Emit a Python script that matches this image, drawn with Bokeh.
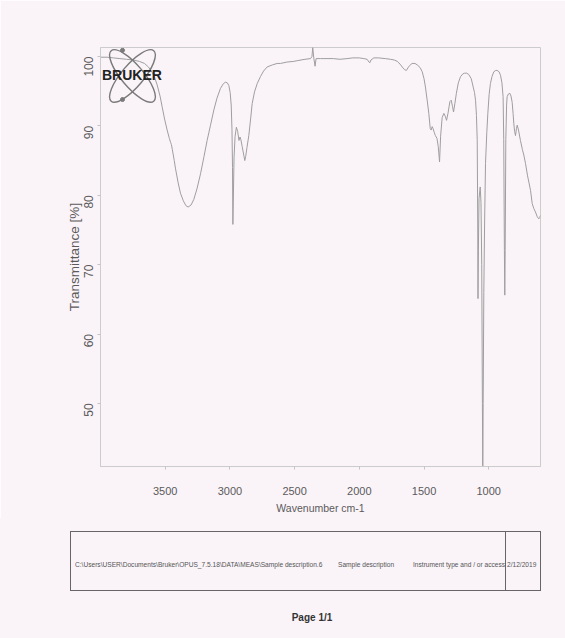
import math
from bokeh.plotting import figure
from bokeh.models import Range1d, FixedTicker, Label, Div
from bokeh.layouts import column
from bokeh.embed import file_html
from bokeh.resources import INLINE

# ---------------- data ----------------
wavenumber = [
    4000, 3950, 3900, 3850, 3800, 3750, 3700, 3660, 3630, 3600, 3580, 3562, 3540, 3523,
    3505, 3485, 3468, 3458, 3452, 3445, 3430, 3420, 3400, 3382, 3360, 3340, 3323, 3300,
    3279, 3255, 3227, 3200, 3176, 3150, 3124, 3100, 3073, 3050, 3034, 3020, 3008, 2998,
    2990, 2984, 2980, 2977, 2974, 2968, 2960, 2950, 2940, 2930, 2922, 2915, 2905, 2893,
    2885, 2878, 2868, 2854, 2840, 2828, 2810, 2789, 2764, 2740, 2712, 2670, 2635, 2609,
    2560, 2506, 2480, 2420, 2377, 2366, 2360, 2352, 2342, 2334, 2300, 2274, 2200, 2150,
    2094, 2050, 2000, 1965, 1940, 1925, 1919, 1910, 1888, 1850, 1800, 1759, 1730, 1707,
    1685, 1669, 1650, 1636, 1620, 1600, 1592, 1570, 1553, 1530, 1514, 1500, 1489, 1475,
    1463, 1452, 1445, 1437, 1430, 1420, 1412, 1400, 1390, 1380, 1372, 1360, 1347, 1336,
    1326, 1315, 1300, 1290, 1280, 1272, 1262, 1250, 1235, 1218, 1200, 1187, 1170, 1154,
    1135, 1120, 1110, 1102, 1095, 1089, 1085, 1083, 1080, 1075, 1066, 1060, 1054, 1049,
    1046, 1043, 1038, 1032, 1025, 1015, 1007, 997, 987, 975, 961, 945, 935, 920, 909,
    898, 889, 884, 879, 876, 873, 868, 862, 858, 848, 837, 828, 819, 812, 806, 800, 793,
    786, 780, 770, 755, 740, 729, 716, 700, 690, 677, 664, 652, 639, 625, 613, 606, 600,
]
transmittance = [
    99.9, 99.9, 99.8, 99.7, 99.6, 99.5, 99.3, 99.0, 98.5, 97.7, 96.9, 95.9, 94.3, 92.7,
    91.0, 89.4, 88.2, 87.6, 87.3, 86.6, 85.0, 83.8, 81.8, 80.3, 79.2, 78.5, 78.3, 78.6,
    79.4, 80.9, 83.1, 85.6, 87.9, 90.1, 92.3, 94.0, 95.4, 96.1, 96.3, 96.2, 95.8, 94.8,
    93.0, 89.5, 84.0, 75.8, 79.0, 85.5, 88.5, 89.8, 89.2, 87.9, 88.4, 88.0, 87.0, 85.8,
    85.0, 85.6, 86.9, 88.6, 91.0, 93.2, 94.9, 96.1, 97.1, 97.9, 98.5, 98.8, 99.0, 99.0,
    99.2, 99.3, 99.4, 99.6, 99.7, 100.0, 101.3, 99.8, 98.6, 99.7, 99.7, 99.7, 99.7, 99.6,
    99.7, 99.8, 99.8, 99.7, 99.6, 99.2, 99.1, 99.5, 99.8, 99.8, 99.7, 99.6, 99.5, 99.3,
    98.9, 98.5, 98.1, 98.0, 98.5, 98.9, 99.0, 99.0, 98.8, 98.4, 97.8, 96.8, 95.6, 93.6,
    91.8, 89.6, 89.4, 89.9, 89.6, 89.0, 88.6, 88.2, 87.0, 84.8, 88.5, 91.2, 91.8, 91.4,
    90.8, 91.8, 93.5, 93.7, 92.8, 92.0, 93.2, 94.7, 96.2, 97.1, 97.5, 97.6, 97.6, 97.4,
    96.8, 95.6, 94.8, 93.7, 91.5, 88.0, 76.0, 65.1, 72.0, 79.5, 81.2, 79.0, 70.0, 50.0,
    40.0, 50.0, 66.0, 76.0, 84.6, 89.0, 91.8, 94.5, 96.1, 97.1, 97.8, 98.0, 98.0, 97.8, 97.3,
    96.2, 94.2, 88.0, 72.0, 65.6, 72.0, 88.0, 93.0, 94.2, 94.6, 94.7, 94.3, 93.4, 91.8, 90.3, 89.2, 88.6,
    89.6, 90.1, 89.4, 87.9, 86.6, 85.8, 84.6, 82.8, 81.9, 80.7, 78.8, 78.1, 77.6, 76.9, 76.6, 76.8, 77.1,
]
x_ticks = [3500, 3000, 2500, 2000, 1500, 1000]
y_ticks = [50, 60, 70, 80, 90, 100]
x_title = "Wavenumber cm-1"
y_title = "Transmittance [%]"
logo_text = "BRUKER"
footer_texts = [
    "C:\\Users\\USER\\Documents\\Bruker\\OPUS_7.5.18\\DATA\\MEAS\\Sample description.6",
    "Sample description",
    "Instrument type and / or access",
    "2/12/2019",
]
page_text = "Page 1/1"

# ---------------- style ----------------
BG = "#faf4f9"
FONT = "Liberation Sans"
TXT = "#5a5a5a"

p = figure(width=565, height=518,
           x_range=Range1d(4000, 600), y_range=Range1d(40.9, 101.3),
           output_backend="svg", toolbar_location=None,
           min_border_left=100, min_border_right=25, min_border_top=47, min_border_bottom=52,
           background_fill_color=BG, border_fill_color=BG)
p.grid.visible = False
p.outline_line_color = "#cccccc"

p.line(wavenumber, transmittance, line_color="#9e9e9e", line_width=1)

p.xaxis.ticker = FixedTicker(ticks=x_ticks)
p.yaxis.ticker = FixedTicker(ticks=y_ticks)
for ax in (p.xaxis[0], p.yaxis[0]):
    ax.axis_line_color = "#cccccc"
    ax.major_tick_line_color = "#c4c4c4"
    ax.major_tick_out = 3
    ax.major_tick_in = 0
    ax.minor_tick_line_color = None
    ax.major_label_text_color = TXT
    ax.major_label_text_font = FONT
    ax.axis_label_text_font = FONT
    ax.axis_label_text_color = TXT
    ax.axis_label_text_font_style = "normal"

p.xaxis.major_label_text_font_size = "11px"
p.xaxis.major_label_standoff = 17
p.xaxis.axis_label = x_title
p.xaxis.axis_label_text_font_size = "10.5px"
p.xaxis.axis_label_standoff = 4

p.yaxis.major_label_text_font_size = "12px"
p.yaxis.major_label_orientation = math.pi / 2
p.yaxis.major_label_standoff = 9
p.yaxis.axis_label = y_title
p.yaxis.axis_label_text_font_size = "13.5px"
p.yaxis.axis_label_standoff = -5

# Bruker logo (decoration)
p.ellipse(x=[3753, 3753], y=[97.2, 97.2], width=66, height=22,
          width_units="screen", height_units="screen",
          angle=[0.87, -0.87], fill_color=None, line_color="#7a7a7a", line_width=1.4)
p.scatter(x=[3830, 3830], y=[100.9, 93.8], size=4, color="#7a7a7a")
p.add_layout(Label(x=3757, y=97.3, text=logo_text, text_font=FONT,
                   text_font_style="bold", text_font_size="14px", text_color="#222222",
                   text_align="center", text_baseline="middle"))

# ---------------- footer (report box) ----------------
footer_left = [75, 338, 413, 507]
spans = "".join(
    f'<span style="position:absolute;left:{fx}px;top:43px;font-size:7.5px;line-height:8px;'
    f'white-space:nowrap;color:#555;transform:scaleX(0.88);transform-origin:0 50%;">{txt}</span>'
    for txt, fx in zip(footer_texts, footer_left)
)
html = (
    f'<div style="position:relative;width:565px;height:120px;background:{BG};'
    f"font-family:'Liberation Sans',sans-serif;margin:0;padding:0;\">"
    '<div style="position:absolute;left:70px;top:13px;width:471px;height:60px;'
    'border:1.3px solid #666;box-sizing:border-box;"></div>'
    '<div style="position:absolute;left:505px;top:13px;width:0;height:60px;'
    'border-left:1.3px solid #666;"></div>'
    f'{spans}'
    '<span style="position:absolute;left:262px;width:100px;top:94px;text-align:center;'
    f'font-size:10px;line-height:12px;font-weight:bold;color:#333;">{page_text}</span>'
    '</div>'
)
footer = Div(text=html, width=565, height=120, styles={"margin": "0", "padding": "0"})

layout = column(p, footer, spacing=0)
open("out.html", "w").write(file_html(layout, INLINE))
